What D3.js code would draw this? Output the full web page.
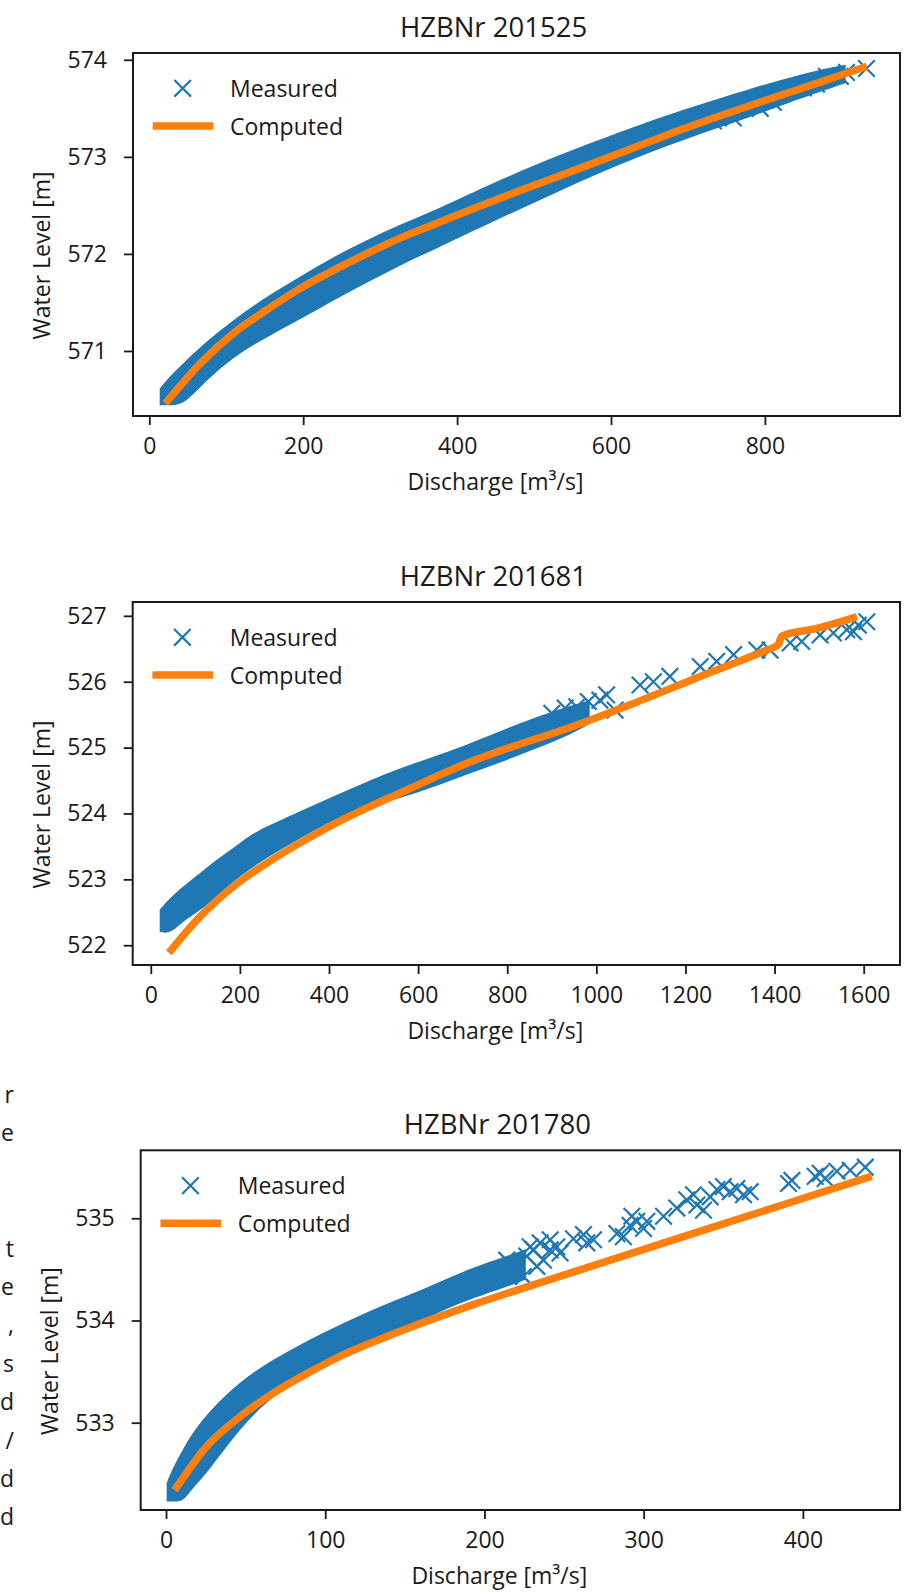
<!DOCTYPE html>
<html>
<head>
<meta charset="utf-8">
<script src="https://cdn.jsdelivr.net/npm/d3@7"></script>
<style>
  body { margin: 0; background: #fff; }
  svg text { font-family: "Open Sans", sans-serif; fill: #1a1a1a; }
</style>
</head>
<body>
<svg id="fig" width="913" height="1592"></svg>
<script>
// ---- HZBNr 201525 ----
const p1Title = "HZBNr 201525";
const p1XTicks = [0, 200, 400, 600, 800];
const p1YTicks = [571, 572, 573, 574];
// envelope of the dense measured cloud
const p1BandQ    = [13.5, 22, 44, 65.5, 109, 152, 195, 239, 282, 325, 369, 438, 525, 612, 698, 785, 828, 872, 905];
const p1BandLow  = [570.44, 570.44, 570.44, 570.63, 570.94, 571.14, 571.32, 571.52, 571.70, 571.88, 572.04, 572.30, 572.62, 572.93, 573.19, 573.42, 573.55, 573.67, 573.76];
const p1BandHigh = [570.61, 570.70, 570.87, 571.04, 571.32, 571.56, 571.76, 571.97, 572.14, 572.30, 572.44, 572.70, 573.00, 573.26, 573.50, 573.71, 573.81, 573.90, 573.95];
// single measured points at the sparse end
const p1CrossQ = [733, 759, 794, 811, 850, 867, 880, 898, 906, 932];
const p1CrossH = [573.37, 573.40, 573.50, 573.56, 573.71, 573.75, 573.83, 573.83, 573.87, 573.91];
const p1LineQ = [24, 66, 109, 152, 195, 239, 282, 325, 369, 438, 525, 612, 698, 785, 872, 928];
const p1LineH = [570.49, 570.87, 571.18, 571.42, 571.64, 571.83, 572.00, 572.16, 572.30, 572.52, 572.78, 573.04, 573.30, 573.54, 573.77, 573.92];

// ---- HZBNr 201681 ----
const p2Title = "HZBNr 201681";
const p2XTicks = [0, 200, 400, 600, 800, 1000, 1200, 1400, 1600];
const p2YTicks = [522, 523, 524, 525, 526, 527];
const p2BandQ    = [20, 35, 55, 72, 110, 147, 185, 222, 259, 334, 409, 484, 559, 634, 708, 784, 859, 934, 985];
const p2BandLow  = [522.20, 522.18, 522.24, 522.36, 522.52, 522.74, 522.97, 523.15, 523.32, 523.62, 523.90, 524.10, 524.23, 524.40, 524.59, 524.77, 524.97, 525.17, 525.36];
const p2BandHigh = [522.54, 522.66, 522.79, 522.89, 523.09, 523.30, 523.47, 523.67, 523.80, 524.03, 524.26, 524.48, 524.69, 524.86, 525.04, 525.25, 525.45, 525.62, 525.72];
const p2CrossQ = [900, 930, 956, 982, 1008, 1023, 1042, 1098, 1128, 1165, 1233, 1270, 1308, 1360, 1390, 1435, 1461, 1502, 1532, 1562, 1577, 1588, 1607];
const p2CrossH = [525.52, 525.60, 525.62, 525.70, 525.72, 525.80, 525.57, 525.95, 526.00, 526.08, 526.23, 526.31, 526.41, 526.48, 526.48, 526.59, 526.61, 526.71, 526.74, 526.79, 526.76, 526.86, 526.91];
const p2LineQ = [46, 110, 185, 259, 334, 409, 484, 559, 634, 708, 784, 934, 1083, 1233, 1382, 1408, 1416, 1495, 1577];
const p2LineH = [521.93, 522.43, 522.89, 523.24, 523.55, 523.83, 524.08, 524.31, 524.54, 524.76, 524.95, 525.29, 525.67, 526.08, 526.48, 526.56, 526.69, 526.81, 526.97];

// ---- HZBNr 201780 ----
const p3Title = "HZBNr 201780";
const p3XTicks = [0, 100, 200, 300, 400];
const p3YTicks = [533, 534, 535];
const p3BandQ    = [0.4, 4.6, 11, 15, 25.6, 46.5, 67.4, 88.4, 109.3, 130.2, 151.2, 172, 193, 214, 226];
const p3BandLow  = [532.23, 532.23, 532.23, 532.33, 532.50, 532.95, 533.27, 533.46, 533.63, 533.78, 533.92, 534.09, 534.22, 534.33, 534.40];
const p3BandHigh = [532.41, 532.57, 532.75, 532.86, 533.09, 533.41, 533.62, 533.80, 533.96, 534.11, 534.24, 534.38, 534.52, 534.63, 534.70];
const p3CrossQ = [214, 220.3, 224.5, 226.6, 228.7, 232.9, 237.1, 241.3,
                  230.8, 235, 241.3, 245.4, 247.5, 255.9, 262.2, 264.3, 268.5, 283.2, 287.3, 292.6, 291.5, 295.7, 299.9, 302, 312.5, 320.8, 327.1, 331.3, 333.4, 337.6, 341.8, 346, 350.1, 354.3, 358.5, 362.7, 366.9, 391, 393.1, 407.7, 410.9, 414, 421.4, 429.7, 439.2];
const p3CrossH = [534.59, 534.50, 534.43, 534.63, 534.72, 534.53, 534.59, 534.69,
                  534.69, 534.76, 534.79, 534.72, 534.66, 534.80, 534.84, 534.76, 534.79, 534.85, 534.82, 535.02, 534.93, 534.97, 534.90, 534.97, 535.02, 535.10, 535.18, 535.23, 535.13, 535.08, 535.21, 535.28, 535.31, 535.26, 535.29, 535.23, 535.26, 535.34, 535.37, 535.41, 535.44, 535.39, 535.46, 535.47, 535.50];
const p3LineQ = [6.7, 25.6, 46.5, 67.4, 88.4, 109.3, 130.2, 151.2, 172, 193, 221, 262, 304, 346, 388, 441];
const p3LineH = [532.37, 532.77, 533.06, 533.29, 533.48, 533.65, 533.79, 533.92, 534.04, 534.155, 534.30, 534.505, 534.715, 534.925, 535.135, 535.40];

const legendLabels = ["Measured", "Computed"];
const xLabel = "Discharge [m³/s]";
const yLabel = "Water Level [m]";
// line ends of the page text left of the last plot
const marginGlyphs = ["r", "e", "", "", "t", "e", ",", "s", "d", "/", "d", "d"];

const svg = d3.select("#fig");
const blue = "#1f77b4", orange = "#ff7f0e", ink = "#1a1a1a";

const panels = [
    { title: p1Title, xTicks: p1XTicks, yTicks: p1YTicks, bandQ: p1BandQ, bandLow: p1BandLow, bandHigh: p1BandHigh,
      crossQ: p1CrossQ, crossH: p1CrossH, lineQ: p1LineQ, lineH: p1LineH,
      xDomain: [-21.2, 975.6], yDomain: [570.33, 574.07], left: 133, right: 900, top: 53, bottom: 416 },
    { title: p2Title, xTicks: p2XTicks, yTicks: p2YTicks, bandQ: p2BandQ, bandLow: p2BandLow, bandHigh: p2BandHigh,
      crossQ: p2CrossQ, crossH: p2CrossH, lineQ: p2LineQ, lineH: p2LineH,
      xDomain: [-40.6, 1681.5], yDomain: [521.70, 527.21], left: 132.7, right: 900, top: 602, bottom: 965 },
    { title: p3Title, xTicks: p3XTicks, yTicks: p3YTicks, bandQ: p3BandQ, bandLow: p3BandLow, bandHigh: p3BandHigh,
      crossQ: p3CrossQ, crossH: p3CrossH, lineQ: p3LineQ, lineH: p3LineH,
      xDomain: [-15.9, 461], yDomain: [532.146, 535.665], left: 140.7, right: 900, top: 1150.3, bottom: 1510 }
];

const cross = d3.symbol().type(d3.symbolTimes).size(182);

panels.forEach(p => {
    const x = d3.scaleLinear().domain(p.xDomain).range([p.left, p.right]);
    const y = d3.scaleLinear().domain(p.yDomain).range([p.bottom, p.top]);
    const g = svg.append("g");
    const midX = (p.left + p.right) / 2, midY = (p.top + p.bottom) / 2;

    // measured: dense cloud
    const band = p.bandQ.map((q, i) => ({ q, lo: p.bandLow[i], hi: p.bandHigh[i] }));
    g.append("path")
        .datum(band)
        .attr("d", d3.area().x(d => x(d.q)).y0(d => y(d.lo)).y1(d => y(d.hi)).curve(d3.curveBasis))
        .attr("fill", blue);

    // measured: single points
    g.append("g")
        .selectAll("path")
        .data(p.crossQ.map((q, i) => [q, p.crossH[i]]))
        .join("path")
        .attr("transform", d => `translate(${x(d[0])},${y(d[1])})`)
        .attr("d", cross)
        .attr("fill", "none")
        .attr("stroke", blue)
        .attr("stroke-width", 2.2);

    // computed rating curve
    g.append("path")
        .datum(p.lineQ.map((q, i) => [q, p.lineH[i]]))
        .attr("d", d3.line().x(d => x(d[0])).y(d => y(d[1])).curve(d3.curveMonotoneX))
        .attr("fill", "none")
        .attr("stroke", orange)
        .attr("stroke-width", 7.5)
        .attr("stroke-linecap", "square");

    // axes
    const ax = g.append("g")
        .attr("transform", `translate(0,${p.bottom})`)
        .call(d3.axisBottom(x).tickValues(p.xTicks).tickFormat(d3.format("d")).tickSize(9).tickPadding(13));
    const ay = g.append("g")
        .attr("transform", `translate(${p.left},0)`)
        .call(d3.axisLeft(y).tickValues(p.yTicks).tickFormat(d3.format("d")).tickSize(9).tickPadding(17));
    [ax, ay].forEach(a => {
        a.select(".domain").remove();
        a.selectAll("line").attr("stroke", ink).attr("stroke-width", 1.8);
        a.selectAll("text").attr("font-size", 23).attr("fill", ink).attr("font-family", "'Open Sans', sans-serif");
    });

    g.append("rect")
        .attr("x", p.left).attr("y", p.top)
        .attr("width", p.right - p.left).attr("height", p.bottom - p.top)
        .attr("fill", "none").attr("stroke", ink).attr("stroke-width", 2);

    // title and axis labels
    g.append("text")
        .attr("x", midX - 23).attr("y", p.top - 16)
        .attr("text-anchor", "middle").attr("font-size", 27.5)
        .text(p.title);
    g.append("text")
        .attr("x", midX - 21).attr("y", p.bottom + 74)
        .attr("text-anchor", "middle").attr("font-size", 23)
        .text(xLabel);
    g.append("text")
        .attr("transform", `translate(${p.left - 83},${midY + 21}) rotate(-90)`)
        .attr("text-anchor", "middle").attr("font-size", 23)
        .text(yLabel);

    // legend
    const lg = g.append("g").attr("transform", `translate(${p.left},${p.top})`);
    lg.append("path")
        .attr("transform", "translate(49.7,35.3)")
        .attr("d", cross)
        .attr("fill", "none").attr("stroke", blue).attr("stroke-width", 2.2);
    lg.append("line")
        .attr("x1", 19.7).attr("x2", 80.3).attr("y1", 73).attr("y2", 73)
        .attr("stroke", orange).attr("stroke-width", 7.5);
    lg.selectAll("text.leg")
        .data(legendLabels)
        .join("text")
        .attr("class", "leg")
        .attr("x", 97)
        .attr("y", (d, i) => 44 + i * 38)
        .attr("font-size", 23)
        .text(d => d);
});

// margin text column
svg.append("g")
    .selectAll("text")
    .data(marginGlyphs)
    .join("text")
    .attr("x", 14)
    .attr("y", (d, i) => 1103 + i * 38.4)
    .attr("text-anchor", "end")
    .attr("font-size", 23)
    .text(d => d);
</script>
</body>
</html>
